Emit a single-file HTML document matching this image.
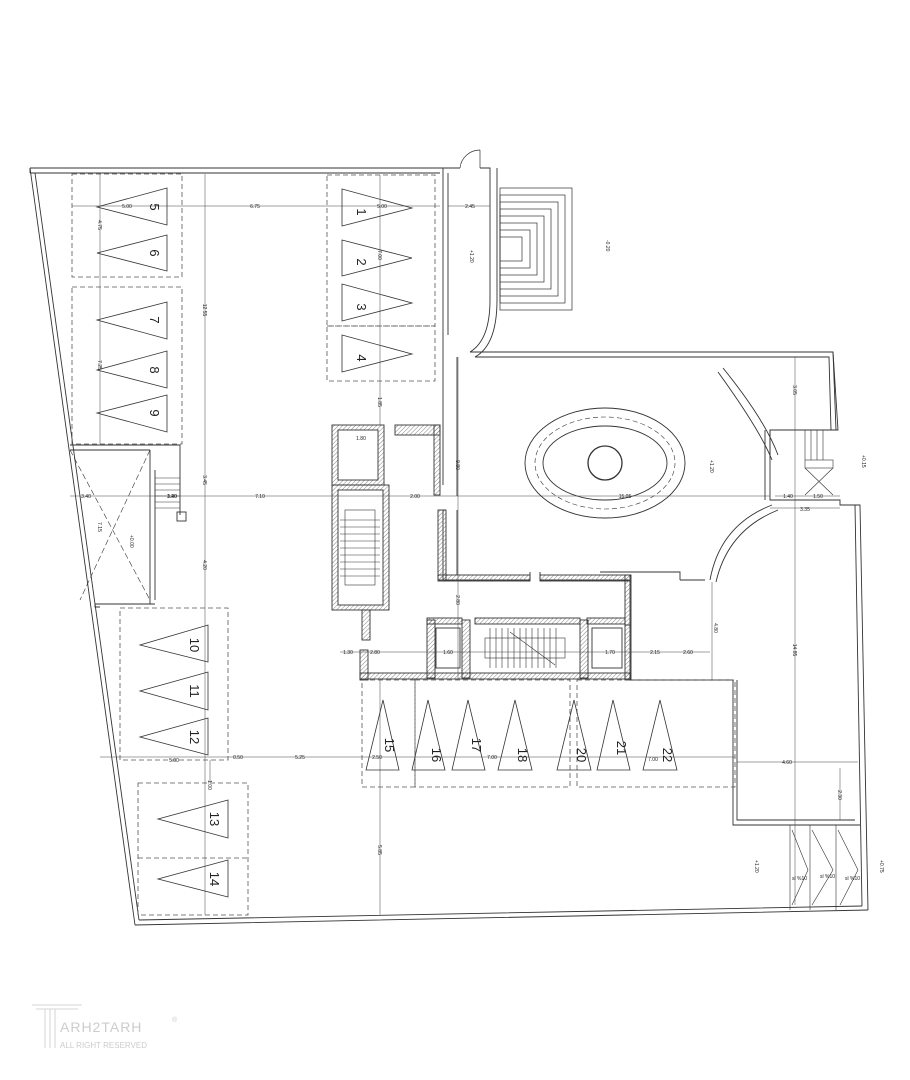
<!DOCTYPE html>
<html><head><meta charset="utf-8"><style>
html,body{margin:0;padding:0;background:#fff;}
svg{display:block}
text{font-family:"Liberation Sans",sans-serif;fill:#222}
.d{font-size:5px;fill:#444}
.n{font-size:13px;fill:#111}
</style></head><body>
<svg width="910" height="1080" viewBox="0 0 910 1080" xmlns="http://www.w3.org/2000/svg">
<defs>
<pattern id="h" width="3" height="3" patternUnits="userSpaceOnUse" patternTransform="rotate(45)"><line x1="0" y1="0" x2="0" y2="3" stroke="#666" stroke-width="0.8"/></pattern>
</defs>
<g fill="none" stroke="#333" stroke-width="0.9">
<!-- outer boundary -->
<path d="M30,168 L443,168 M30,173 L440,173"/>
<path d="M30,168 L135,925 M35,173 L139,920"/>
<path d="M135,925 L868,910 M139,920 L862,906"/>
<path d="M30,168 L30,173"/>
<!-- entrance block -->
<path d="M443,168 L443,355 M448,173 L448,335 M443,168 L460,168 M480,168 L490,168 L490,300 M497,168 L497,300 M490,300 Q490,340 470,352 M497,300 Q497,345 475,357"/>
<path d="M460,168 A20,20 0 0 1 480,150 M480,150 L480,168" stroke-width="0.7"/>
<!-- stairs squares -->
<g stroke-width="0.7">
<rect x="500" y="188" width="72" height="122"/><rect x="500" y="195" width="65" height="108"/><rect x="500" y="202" width="58" height="94"/><rect x="500" y="209" width="51" height="80"/><rect x="500" y="216" width="44" height="66"/><rect x="500" y="223" width="37" height="52"/><rect x="500" y="230" width="30" height="38"/><rect x="500" y="237" width="22" height="24"/>
</g>
<!-- main big room top wall -->
<path d="M470,352 L833,352 L836,430 M475,357 L829,357 L831,430"/>
<path d="M833,352 L838,430 L770,430 L770,500 L840,500 L840,505 L860,505 L868,910"/>
<path d="M770,430 L770,455 M765,430 L765,500"/>
<path d="M855,505 L862,906"/>
<!-- central corridor walls -->
<path d="M443,355 L443,485 M457,357 L457,496 M443,510 L443,580 L530,580 L530,572 M457,510 L457,575 M540,572 L540,580 L630,580 L630,625 L625,625"/>
<path d="M600,572 L680,572 L680,580"/>
<!-- arc walls -->
<path d="M718,372 Q760,430 772,460 M723,368 Q765,420 778,455" />
<path d="M772,505 Q720,525 710,580 M778,510 Q728,530 716,582"/>
<path d="M680,580 L705,580"/>
<!-- lower right room -->
<path d="M733,680 L733,825 L860,825 M737,680 L737,820 L855,820"/>
<path d="M630,625 L630,680 L733,680"/>
<!-- stair block left -->
<rect x="332" y="425" width="52" height="60" fill="url(#h)" stroke="#333"/>
<rect x="338" y="430" width="40" height="50" fill="#fff"/>
<rect x="332" y="485" width="57" height="125" fill="url(#h)"/>
<rect x="338" y="490" width="45" height="115" fill="#fff"/>
<rect x="395" y="425" width="45" height="10" fill="url(#h)"/>
<rect x="434" y="425" width="6" height="70" fill="url(#h)"/>
<rect x="438" y="510" width="8" height="70" fill="url(#h)"/>
<rect x="438" y="575" width="92" height="6" fill="url(#h)"/>
<rect x="540" y="575" width="90" height="6" fill="url(#h)"/>
<rect x="625" y="575" width="6" height="105" fill="url(#h)"/>
<rect x="362" y="610" width="8" height="30" fill="url(#h)"/>
<rect x="360" y="650" width="8" height="30" fill="url(#h)"/>
<rect x="360" y="673" width="270" height="6" fill="url(#h)"/>
<rect x="427" y="620" width="8" height="58" fill="url(#h)"/>
<rect x="427" y="618" width="35" height="6" fill="url(#h)"/>
<rect x="475" y="618" width="105" height="6" fill="url(#h)"/>
<rect x="587" y="618" width="38" height="6" fill="url(#h)"/>
<rect x="462" y="620" width="8" height="58" fill="url(#h)"/>
<rect x="580" y="620" width="8" height="58" fill="url(#h)"/>
<rect x="436" y="628" width="24" height="40"/>
<rect x="592" y="628" width="30" height="40"/>
<!-- stair lines -->
<g stroke-width="0.6">
<rect x="345" y="510" width="30" height="75"/>
<path d="M340,520h40M340,527h40M340,534h40M340,541h40M340,548h40M340,555h40M340,562h40M340,569h40M340,576h40"/>
<path d="M490,628v40M496,628v40M502,628v40M508,628v40M514,628v40M520,628v40M526,628v40M532,628v40M538,628v40M544,628v40M550,628v40M556,628v40"/>
<rect x="485" y="638" width="80" height="20"/>
<path d="M510,632 L555,665"/>
<path d="M155,478h25M155,484h25M155,490h25M155,496h25M155,502h25M155,508h25"/>
<path d="M805,430v30M811,430v30M817,430v30M823,430v30"/>
<rect x="805" y="460" width="28" height="8"/>
<path d="M805,468 L833,495 M833,468 L805,495"/>
</g>
<!-- left stair room -->
<path d="M70,450 L150,450 M70,445 L180,445 L180,515 M150,450 L150,604 M155,470 L155,600 M95,604 L155,604"/>
<path d="M70,450 L150,600 M150,450 L80,600" stroke-dasharray="6,3" stroke-width="0.6"/>
<rect x="177" y="512" width="9" height="9"/>
<!-- lower left edge wall -->
<path d="M95,604 L95,607 L100,607"/>
<!-- oval -->
<ellipse cx="605" cy="463" rx="80" ry="55"/>
<ellipse cx="605" cy="463" rx="70" ry="46" stroke-dasharray="5,3" stroke-width="0.6"/>
<ellipse cx="605" cy="463" rx="62" ry="37"/>
<circle cx="605" cy="463" r="17" stroke-width="1.3"/>
<!-- ramp bottom right -->
<g stroke-width="0.6">
<path d="M790,825 L790,910 M810,825 L810,910 M836,825 L836,910"/>
<path d="M792,830 L808,870 L792,905 M812,830 L833,870 L812,905 M838,830 L858,870 L840,905"/>
</g>
</g>
<!-- dashed parking boxes -->
<g fill="none" stroke="#555" stroke-width="0.8" stroke-dasharray="5,3">
<rect x="72" y="174" width="110" height="103"/>
<rect x="72" y="287" width="110" height="157"/>
<rect x="327" y="175" width="108" height="151"/>
<rect x="327" y="326" width="108" height="55"/>
<rect x="120" y="608" width="108" height="152"/>
<rect x="138" y="783" width="110" height="132"/>
<rect x="362" y="680" width="53" height="107"/>
<rect x="415" y="680" width="155" height="107"/>
<rect x="577" y="680" width="158" height="107"/>
<line x1="138" y1="858" x2="248" y2="858"/>
</g>
<!-- dimension lines -->
<g stroke="#444" stroke-width="0.5" fill="none">
<line x1="72" y1="206" x2="440" y2="206"/>
<line x1="448" y1="206" x2="490" y2="206"/>
<line x1="205" y1="174" x2="205" y2="915"/>
<line x1="100" y1="174" x2="100" y2="444"/>
<line x1="380" y1="175" x2="380" y2="425"/>
<line x1="380" y1="680" x2="380" y2="915"/>
<line x1="70" y1="496" x2="770" y2="496"/>
<line x1="775" y1="496" x2="840" y2="496"/>
<line x1="770" y1="508" x2="840" y2="508"/>
<line x1="458" y1="357" x2="458" y2="680"/>
<line x1="795" y1="357" x2="795" y2="905"/>
<line x1="712" y1="582" x2="712" y2="680"/>
<line x1="340" y1="652" x2="710" y2="652"/>
<line x1="100" y1="757" x2="735" y2="757"/>
<line x1="737" y1="762" x2="858" y2="762"/>
<line x1="210" y1="760" x2="210" y2="783"/>
<line x1="840" y1="768" x2="840" y2="820"/>
</g>
<!-- triangles -->
<g fill="none" stroke="#333" stroke-width="0.8">
<polygon points="342,189 342,226 412,208"/>
<polygon points="342,240 342,276 412,258"/>
<polygon points="342,284 342,321 412,303"/>
<polygon points="342,335 342,372 412,354"/>
<polygon points="167,188 167,225 97,207"/>
<polygon points="167,235 167,271 97,253"/>
<polygon points="167,302 167,339 97,320"/>
<polygon points="167,351 167,388 97,370"/>
<polygon points="167,395 167,432 97,413"/>
<polygon points="208,625 208,662 140,645"/>
<polygon points="208,672 208,710 140,691"/>
<polygon points="208,718 208,755 140,737"/>
<polygon points="228,800 228,838 158,819"/>
<polygon points="228,860 228,897 158,879"/>
<polygon points="366,770 399,770 383,700"/>
<polygon points="412,770 445,770 428,700"/>
<polygon points="452,770 485,770 468,700"/>
<polygon points="498,770 532,770 515,700"/>
<polygon points="557,770 591,770 574,700"/>
<polygon points="597,770 630,770 613,700"/>
<polygon points="643,770 677,770 660,700"/>
</g>
<!-- numbers -->
<g class="n" text-anchor="middle">
<text transform="translate(357,212) rotate(90)">1</text>
<text transform="translate(357,262) rotate(90)">2</text>
<text transform="translate(357,307) rotate(90)">3</text>
<text transform="translate(357,358) rotate(90)">4</text>
<text transform="translate(150,207) rotate(90)">5</text>
<text transform="translate(150,253) rotate(90)">6</text>
<text transform="translate(150,320) rotate(90)">7</text>
<text transform="translate(150,370) rotate(90)">8</text>
<text transform="translate(150,413) rotate(90)">9</text>
<text transform="translate(190,645) rotate(90)">10</text>
<text transform="translate(190,691) rotate(90)">11</text>
<text transform="translate(190,737) rotate(90)">12</text>
<text transform="translate(210,819) rotate(90)">13</text>
<text transform="translate(210,879) rotate(90)">14</text>
<text transform="translate(385,745) rotate(90)">15</text>
<text transform="translate(432,755) rotate(90)">16</text>
<text transform="translate(472,745) rotate(90)">17</text>
<text transform="translate(518,755) rotate(90)">18</text>
<text transform="translate(577,755) rotate(90)">20</text>
<text transform="translate(617,748) rotate(90)">21</text>
<text transform="translate(663,755) rotate(90)">22</text>
</g>
<!-- dim labels -->
<g class="d" text-anchor="middle">
<text x="127" y="208">5.00</text><text x="255" y="208">6.75</text><text x="382" y="208">5.00</text><text x="470" y="208">2.45</text>
<text x="172" y="498">3.40</text><text x="172" y="498">1.20</text><text x="86" y="498">3.40</text><text x="260" y="498">7.10</text>
<text x="415" y="498">2.00</text><text x="625" y="498">15.05</text><text x="788" y="498">1.40</text><text x="818" y="498">1.50</text><text x="805" y="511">3.35</text>
<text x="300" y="759">5.25</text><text x="238" y="759">0.50</text><text x="174" y="762">5.00</text><text x="492" y="759">7.00</text><text x="653" y="761">7.00</text><text x="377" y="759">2.50</text>
<text x="787" y="764">4.60</text><text x="375" y="654">2.80</text><text x="348" y="654">1.30</text><text x="448" y="654">1.60</text><text x="610" y="654">1.70</text><text x="655" y="654">2.15</text><text x="688" y="654">2.60</text>
<text x="361" y="440">1.80</text>
</g>
<g class="d" text-anchor="middle">
<text transform="translate(203,310) rotate(90)">12.55</text>
<text transform="translate(203,480) rotate(90)">3.45</text>
<text transform="translate(203,565) rotate(90)">4.20</text>
<text transform="translate(378,402) rotate(90)">1.85</text>
<text transform="translate(378,850) rotate(90)">5.85</text>
<text transform="translate(456,465) rotate(90)">9.80</text>
<text transform="translate(456,600) rotate(90)">2.80</text>
<text transform="translate(793,390) rotate(90)">3.05</text>
<text transform="translate(793,650) rotate(90)">14.85</text>
<text transform="translate(714,628) rotate(90)">4.80</text>
<text transform="translate(98,225) rotate(90)">4.75</text>
<text transform="translate(98,365) rotate(90)">7.25</text>
<text transform="translate(98,527) rotate(90)">7.15</text>
<text transform="translate(208,785) rotate(90)">1.00</text>
<text transform="translate(838,795) rotate(90)">2.30</text>
<text transform="translate(378,255) rotate(90)">7.00</text>
</g>
<g class="d"><text x="820" y="878">sl %10</text><text x="792" y="880">sl %10</text><text x="845" y="880">sl %10</text>
<text transform="translate(606,240) rotate(90)">-0.20</text><text transform="translate(470,250) rotate(90)">+1.20</text>
<text transform="translate(710,460) rotate(90)">+1.20</text><text transform="translate(862,455) rotate(90)">+0.15</text>
<text transform="translate(755,860) rotate(90)">+1.20</text><text transform="translate(880,860) rotate(90)">+0.75</text>
<text transform="translate(130,535) rotate(90)">+0.00</text></g>
<!-- logo -->
<g fill="none" stroke="#ddd" stroke-width="1.2">
<path d="M32,1005 H82 M36,1009 H78 M45,1009 V1048 M50,1009 V1048 M55,1009 V1048"/>
</g>
<text x="60" y="1032" style="font-size:14px;fill:#ccc;letter-spacing:1px">ARH2TARH</text>
<text x="60" y="1048" style="font-size:8px;fill:#ccc">ALL RIGHT RESERVED</text>
<text x="172" y="1022" style="font-size:7px;fill:#ccc">®</text>
</svg>
</body></html>
